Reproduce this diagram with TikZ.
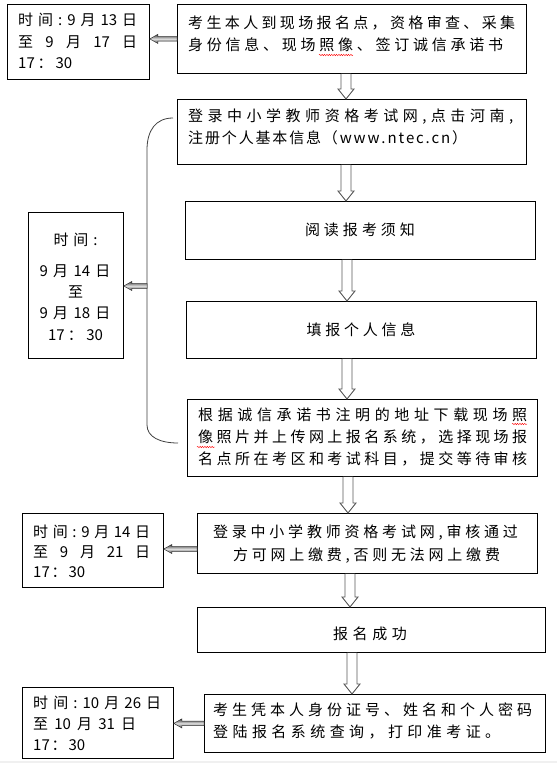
\documentclass[tikz,border=0pt]{standalone}
\usepackage{fontspec}
\setmainfont{Noto Sans CJK SC}
\usetikzlibrary{calc,decorations.pathmorphing}
\newlength\lsp \setlength\lsp{4pt}
\makeatletter
\def\my@spread#1{\ifx\relax#1\else#1\hfil\expandafter\my@spread\fi}
\def\my@kern#1{\ifx\relax#1\else#1\kern\lsp\expandafter\my@kern\fi}
\newcommand\jl[2]{\makebox[#1][s]{\my@spread#2\relax\unskip}}
\newcommand\kl[1]{\my@kern#1\relax\unkern}
\makeatother
\tikzset{
  box/.style={draw=black, line width=0.8pt, fill=white, inner sep=0pt, anchor=north west},
  txt/.style={inner sep=0pt, anchor=west, text=black, font=\fontsize{15pt}{17pt}\selectfont},
  ctxt/.style={txt, anchor=center},
  hollow/.style={draw=black!65, line width=0.9pt, fill=white},
  garr/.style={top color=black!75, bottom color=black!75, middle color=black!12, draw=black!80, line width=0.5pt},
  link/.style={draw=black!75, line width=0.8pt},
  squig/.style={draw=red, line width=0.4pt, decorate, decoration={snake, amplitude=0.7pt, segment length=2.4pt}}
}
\newcommand\garrow[2]{%
  \shadedraw[garr] let \p1=(#1), \p2=(#2) in
    (\x2,\y2) -- (\x2+8pt,\y2+4.5pt) -- (\x2+8pt,\y2+2.3pt) -- (\x1,\y2+2.3pt)
    -- (\x1,\y2-2.3pt) -- (\x2+8pt,\y2-2.3pt) -- (\x2+8pt,\y2-4.5pt) -- cycle;}
\newcommand\harrow[3]{%
  \filldraw[hollow] let \p1=(#1 |- #2), \p2=(#1 |- #3) in
    (\x1-5pt,\y1) -- (\x1-5pt,\y2+10pt) -- (\x1-8pt,\y2+10pt) -- (\x1,\y2)
    -- (\x1+8pt,\y2+10pt) -- (\x1+5pt,\y2+10pt) -- (\x1+5pt,\y1);}
\begin{document}
\begin{tikzpicture}[x=1pt,y=-1pt]
\useasboundingbox (0,0) rectangle (557,763);
\fill[white] (0,0) rectangle (557,763);
\fill[black!6] (0,761) rectangle (557,763);

% boxes
\node[box, minimum width=142pt, minimum height=75pt] (L1) at (7,4) {};
\node[box, minimum width=349pt, minimum height=69pt] (B1) at (177,4) {};
\node[box, minimum width=349pt, minimum height=65pt] (B2) at (177,99) {};
\node[box, minimum width=350pt, minimum height=58pt] (B3) at (185,201) {};
\node[box, minimum width=350pt, minimum height=57pt] (B4) at (186,301) {};
\node[box, minimum width=350pt, minimum height=77pt] (B5) at (187,399) {};
\node[box, minimum width=95pt, minimum height=146pt] (L2) at (28,212) {};
\node[box, minimum width=340pt, minimum height=60pt] (B6) at (197,513) {};
\node[box, minimum width=141pt, minimum height=74pt] (L3) at (22,513) {};
\node[box, minimum width=348pt, minimum height=45pt] (B7) at (197,607) {};
\node[box, minimum width=151pt, minimum height=71pt] (L4) at (22,687) {};
\node[box, minimum width=341pt, minimum height=58pt] (B8) at (204,694) {};

% texts
\node[txt] (l1a) at (18,20) {\jl{119pt}{时间:9月{13}日}};
\node[txt] (l1b) at (18,42) {\jl{119pt}{至9月{17}日}};
\node[txt] (l1c) at (18,63) {\jl{54pt}{{17}：{30}}};

\node[txt] (b1a) at (188,23) {\jl{327pt}{考生本人到现场报名点，资格审查、采集}};
\node[txt] (b1b) at (188,45) {\jl{315pt}{身份信息、现场照像、签订诚信承诺书}};

\node[txt] (b2a) at (188,117) {\jl{325pt}{登录中小学教师资格考试网,点击河南,}};
\node[txt] (b2b) at (188,138) {\jl{279pt}{注册个人基本信息（www.ntec.cn）}};

\node[ctxt] (b3a) at (360,230) {\jl{110pt}{阅读报考须知}};
\node[ctxt] (b4a) at (361,330) {\jl{109pt}{填报个人信息}};

\node[txt] (b5a) at (198,415) {\jl{329pt}{根据诚信承诺书注明的地址下载现场照}};
\node[txt] (b5b) at (198,437) {\jl{329pt}{像照片并上传网上报名系统，选择现场报}};
\node[txt] (b5c) at (198,459) {\jl{329pt}{名点所在考区和考试科目，提交等待审核}};

\node[ctxt] (l2a) at (75.5,240) {\jl{44pt}{时间:}};
\node[ctxt] (l2b) at (75,271) {\jl{71pt}{9月{14}日}};
\node[ctxt] (l2c) at (75.5,292) {至};
\node[ctxt] (l2d) at (75,313) {\jl{71pt}{9月{18}日}};
\node[ctxt] (l2e) at (75.5,335) {\jl{55pt}{{17}：{30}}};

\node[ctxt] (b6a) at (365.5,533) {\jl{305pt}{登录中小学教师资格考试网,审核通过}};
\node[ctxt] (b6b) at (366.5,556) {\jl{267pt}{方可网上缴费,否则无法网上缴费}};

\node[txt] (l3a) at (33,532) {\jl{117pt}{时间:9月{14}日}};
\node[txt] (l3b) at (33,552) {\jl{117pt}{至9月{21}日}};
\node[txt] (l3c) at (33,572) {\jl{52pt}{{17}：{30}}};

\node[ctxt] (b7a) at (370,634) {\jl{74pt}{报名成功}};

\node[txt] (b8a) at (213,710) {\jl{319pt}{考生凭本人身份证号、姓名和个人密码}};
\node[txt] (b8b) at (213,732) {\jl{287pt}{登陆报名系统查询，打印准考证。}};

\node[txt] (l4a) at (33,703) {\jl{128pt}{时间:{10}月{26}日}};
\node[txt] (l4b) at (33,724) {\jl{103pt}{至{10}月{31}日}};
\node[txt] (l4c) at (33,745) {\jl{52pt}{{17}：{30}}};

% spell-check squiggles
\draw[squig] (319,55) -- (353,55);
\draw[squig] (512,424) -- (527,424);
\draw[squig] (197,447) -- (215,447);

% hollow down arrows
\coordinate (ax1) at (346,0);
\coordinate (ax2) at (346,0);
\coordinate (ax3) at (347,0);
\coordinate (ax4) at (347,0);
\coordinate (ax5) at (348,0);
\coordinate (ax6) at (350,0);
\coordinate (ax7) at (352,0);
\harrow{ax1}{B1.south}{B2.north}
\harrow{ax2}{B2.south}{B3.north}
\harrow{ax3}{B3.south}{B4.north}
\harrow{ax4}{B4.south}{B5.north}
\harrow{ax5}{B5.south}{B6.north}
\harrow{ax6}{B6.south}{B7.north}
\harrow{ax7}{B7.south}{B8.north}

% brace connector
\coordinate (c1) at (173,118);
\coordinate (c2) at (178,443);
\coordinate (bl) at (147,286);
\draw[link] (c1) .. controls (156,118) and (147,130) .. (147,150) -- (147,425)
  .. controls (147,437) and (160,443) .. (c2);

% shaded left arrows
\garrow{B1.west}{L1.east |- B1.west}
\garrow{bl}{L2.east |- bl}
\garrow{B6.west}{L3.east |- 0,549}
\garrow{B8.west}{L4.east |- B8.west}
\end{tikzpicture}
\end{document}
